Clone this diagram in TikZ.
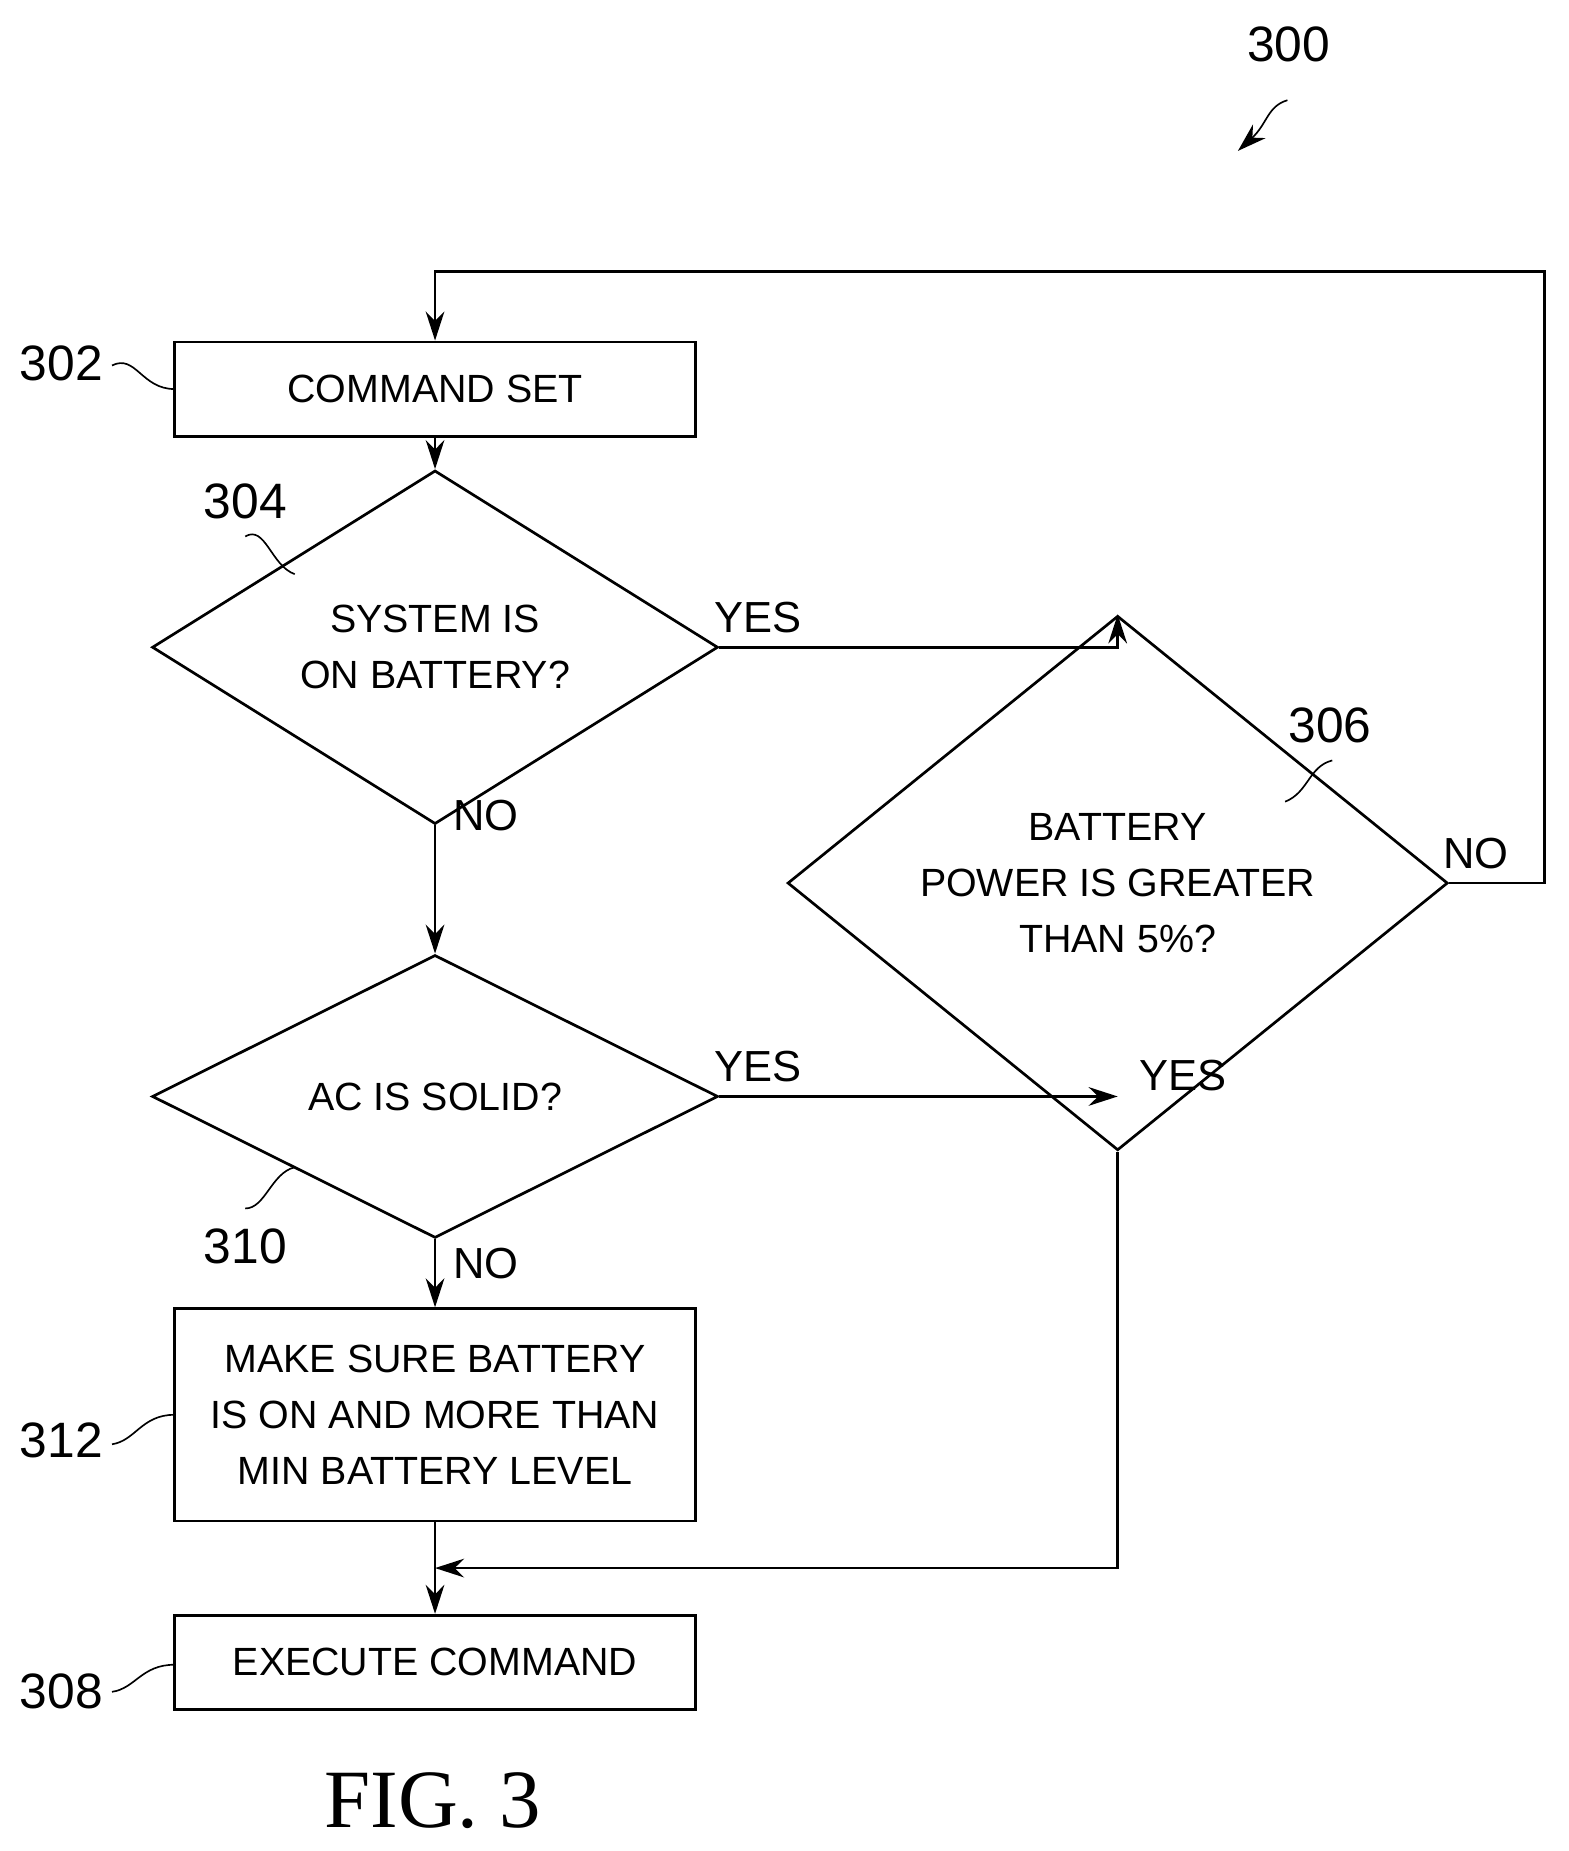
\documentclass[tikz,border=0pt]{standalone}
\usepackage{fontspec}
\setmainfont{Liberation Sans}
\newfontfamily\figfont{Liberation Serif}
\usetikzlibrary{shapes.geometric,arrows.meta}
\begin{document}
\begin{tikzpicture}[x=0.2mm,y=-0.2mm,
  line width=1.3pt, >={Stealth[length=14pt,width=9pt]},
  font=\fontsize{19}{27}\selectfont,
  box/.style={draw, rectangle, minimum width=88.4mm, inner sep=0pt, align=center},
  dec/.style={draw, diamond, inner sep=0pt, align=center},
  lbl/.style={font=\fontsize{21}{25}\selectfont},
  refn/.style={font=\fontsize{24}{28}\selectfont}]
  \useasboundingbox (0,0) rectangle (1330,1570);
    %Blocos
  \node[box, minimum height=16mm] (cmd) at (369,330) {COMMAND SET};
  \node[dec, minimum width=96mm, minimum height=47.6mm] (bat) at (369,549) {SYSTEM IS\\ON BATTERY?};
  \node[dec, minimum width=112mm, minimum height=55.6mm] (pwr) at (948,749) {BATTERY\\POWER IS GREATER\\THAN 5\%?};
  \node[dec, minimum width=96mm, minimum height=48mm] (ac) at (369,930) {AC IS SOLID?};
  \node[box, minimum height=36mm] (sure) at (369,1200) {MAKE SURE BATTERY\\IS ON AND MORE THAN\\MIN BATTERY LEVEL};
  \node[box, minimum height=16mm] (exec) at (369,1410) {EXECUTE COMMAND};
    %Pontos auxiliares
  \coordinate (loopR) at (1310,749);
  \coordinate (loopT) at (1310,230);
  \coordinate (loopL) at (369,230);
  \coordinate (yesJ) at (948,930);
  \coordinate (merge) at (948,1330);
  \coordinate (mergeL) at (369,1330);
    %Conectores
  \draw[->] (cmd) -- (bat);
  \draw[->] (bat.east) -| (pwr.north);
  \draw[->] (bat.south) -- (ac.north);
  \draw[->] (ac.east) -- (yesJ);
  \draw[->] (ac.south) -- (sure.north);
  \draw[->] (sure.south) -- (exec.north);
  \draw[->] (pwr.east) -- (loopR) -- (loopT) -- (loopL) -- (cmd.north);
  \draw[->] (pwr.south) -- (merge) -- (mergeL);
    %Rotulos
  \node[lbl] (y1) at (643,524) {YES};
  \node[lbl] (n1) at (412,692) {NO};
  \node[lbl] (n2) at (1252,724) {NO};
  \node[lbl] (y2) at (1003,912) {YES};
  \node[lbl] (y3) at (643,905) {YES};
  \node[lbl] (n3) at (412,1072) {NO};
    %Numeros de referencia
  \node[refn] (r300) at (1093,38) {300};
  \node[refn] (r302) at (52,308) {302};
  \node[refn] (r304) at (208,425) {304};
  \node[refn] (r306) at (1128,615) {306};
  \node[refn] (r310) at (208,1057) {310};
  \node[refn] (r312) at (52,1222) {312};
  \node[refn] (r308) at (52,1435) {308};
  \draw[line width=0.8pt] (95,310) .. controls (115,300) and (120,330) .. (148,330);
  \draw[line width=0.8pt] (208,455) .. controls (225,445) and (230,480) .. (250,487);
  \draw[line width=0.8pt] (1130,645) .. controls (1110,650) and (1110,672) .. (1090,680);
  \draw[line width=0.8pt] (208,1025) .. controls (225,1025) and (230,995) .. (250,990);
  \draw[line width=0.8pt] (95,1225) .. controls (115,1222) and (120,1200) .. (148,1200);
  \draw[line width=0.8pt] (95,1435) .. controls (115,1432) and (120,1412) .. (148,1412);
  \draw[line width=0.8pt, ->] (1092,85) .. controls (1075,90) and (1075,105) .. (1050,128);
    %Titulo
  \node[font=\figfont\fontsize{40}{44}\selectfont] (fig) at (367,1527) {FIG. 3};
\end{tikzpicture}
\end{document}
